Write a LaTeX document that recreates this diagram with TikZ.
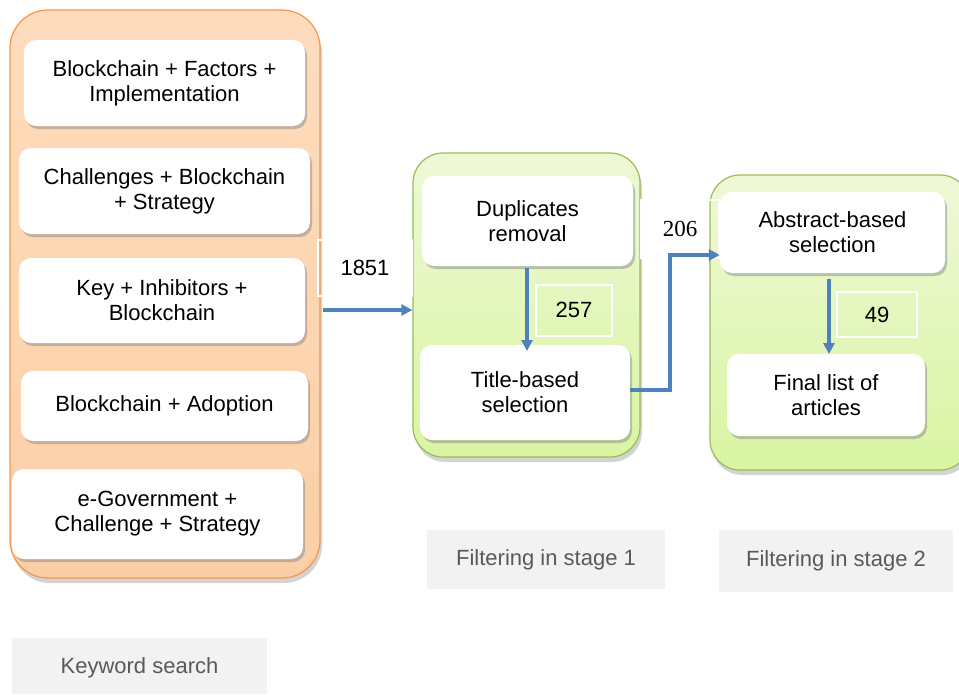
\documentclass[tikz,border=0pt]{standalone}
\usepackage{fontspec}
\setmainfont{Liberation Sans}
\newfontfamily\serifnum{Liberation Serif}
\usetikzlibrary{shadows,arrows.meta}
\definecolor{orfill}{HTML}{FBCFA6}
\definecolor{orfilltop}{HTML}{FDDCBD}
\definecolor{ordraw}{HTML}{F79646}
\definecolor{grtop}{HTML}{EEF8D6}
\definecolor{grbot}{HTML}{D9F5A3}
\definecolor{grdraw}{HTML}{9BBB59}
\definecolor{arblue}{HTML}{4F81BD}
\definecolor{lblbg}{HTML}{F2F2F2}
\definecolor{lbltext}{HTML}{595959}
\tikzset{
  outerorange/.style={draw=ordraw, line width=1.2pt, rounded corners=38pt, top color=orfilltop, bottom color=orfill,
    drop shadow={opacity=0.35, shadow xshift=2pt, shadow yshift=-5pt}},
  outergreen/.style={draw=grdraw, line width=1.2pt, rounded corners=30pt, top color=grtop, bottom color=grbot,
    drop shadow={opacity=0.35, shadow xshift=2pt, shadow yshift=-5pt}},
  wbox/.style={fill=white, rounded corners=12pt, align=center, inner sep=2pt,
    font=\fontsize{22}{25}\selectfont,
    drop shadow={opacity=0.45, shadow xshift=2pt, shadow yshift=-3pt}},
  numbox/.style={draw=white, line width=2pt, font=\fontsize{22}{25}\selectfont, inner sep=0pt},
  arr/.style={draw=arblue, line width=3.5pt, -{Triangle[length=11pt,width=11pt]}},
  stagelbl/.style={fill=lblbg, text=lbltext, font=\fontsize{22}{25}\selectfont, inner sep=0pt}
}
\begin{document}
\begin{tikzpicture}[x=1pt,y=-1pt]
\useasboundingbox (0,0) rectangle (959,694);
% outer containers
\node[outerorange, minimum width=310pt, minimum height=568pt] (orange) at (165,294) {};
\node[outergreen, minimum width=227pt, minimum height=304pt] (green1) at (526.5,305) {};
\node[outergreen, minimum width=260pt, minimum height=295pt] (green2) at (840,322.5) {};
% keyword boxes
\node[wbox, minimum width=281pt, minimum height=86pt] (k1) at (164.5,83) {Blockchain + Factors +\\Implementation};
\node[wbox, minimum width=291pt, minimum height=86pt] (k2) at (164.5,191) {Challenges + Blockchain\\+ Strategy};
\node[wbox, minimum width=286pt, minimum height=85pt] (k3) at (162,300.5) {Key + Inhibitors +\\Blockchain};
\node[wbox, minimum width=287pt, minimum height=70pt] (k4) at (164.5,406) {Blockchain + Adoption};
\node[wbox, minimum width=291pt, minimum height=90pt] (k5) at (157.5,514) {e-Government +\\Challenge + Strategy};
% stage 1 boxes
\node[wbox, minimum width=211pt, minimum height=90pt] (dup) at (527.5,221) {Duplicates\\removal};
\node[wbox, minimum width=210pt, minimum height=95pt] (tb) at (525,392.5) {Title-based\\selection};
% stage 2 boxes
\node[wbox, minimum width=225pt, minimum height=81pt] (abs) at (832.5,232.5) {Abstract-based\\selection};
\node[wbox, minimum width=198pt, minimum height=82pt] (fin) at (826,395) {Final list of\\articles};
% number boxes
\node[numbox, minimum width=94pt, minimum height=56pt] (n1851) at (365,268) {1851};
\node[numbox, minimum width=76pt, minimum height=51pt] (n257) at (574,310) {257};
\node[numbox, minimum width=78pt, minimum height=58pt, font=\serifnum\fontsize{23}{25}\selectfont] (n206) at (680,229) {206};
\node[numbox, minimum width=80pt, minimum height=45pt] (n49) at (877,314.5) {49};
% connectors
\coordinate (s1851) at (323,310);
\draw[arr] (s1851) -- (s1851 -| green1.west);
\draw[arr] (dup.south -| 527,0) ++(0,2) -- (527,351);
\coordinate (j206) at (670,255);
\draw[draw=arblue, line width=3.5pt] (tb.east |- 0,390) -- (640,390);
\draw[arr] (640,390) -| (j206) -- (j206 -| abs.west);
\draw[arr] (829,279) -- (829,354);
% stage labels
\node[stagelbl, minimum width=238pt, minimum height=59pt] (st1) at (546,559.5) {Filtering in stage 1};
\node[stagelbl, minimum width=234pt, minimum height=62pt] (st2) at (836,561) {Filtering in stage 2};
\node[stagelbl, minimum width=255pt, minimum height=56pt, text depth=0pt] (kw) at (139.5,666) {Keyword search};
\end{tikzpicture}
\end{document}
